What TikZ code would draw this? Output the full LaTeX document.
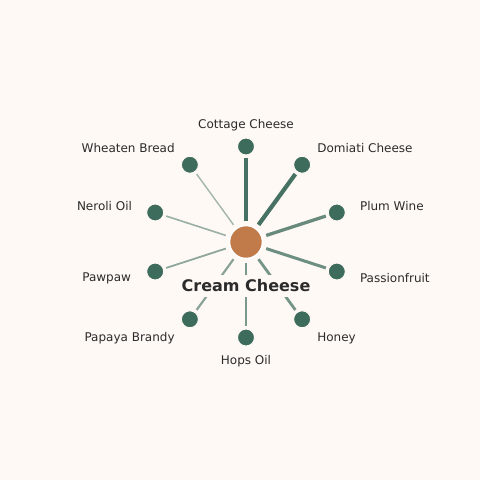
\documentclass[tikz,border=0pt]{standalone}
\usepackage{fontspec}
\setmainfont{DejaVu Sans}
\usetikzlibrary{calc}
\definecolor{paper}{HTML}{FFF9F5}
\definecolor{leaf}{HTML}{3D6B5C}
\definecolor{clay}{HTML}{C17A4A}
\definecolor{inkc}{HTML}{2B2B2B}
\tikzset{
  hub/.style={circle,fill=clay,draw=white,line width=1.5pt,minimum size=33pt,inner sep=0pt},
  item/.style={circle,fill=leaf,draw=paper,line width=1pt,minimum size=17pt,inner sep=0pt},
  spoke/.style={draw=leaf,shorten <=4pt,shorten >=2.5pt},
  tag/.style={font=\fontsize{12}{14}\selectfont,text=inkc,inner sep=1pt},
  title/.style={font=\fontsize{16}{18}\selectfont\bfseries,text=inkc,fill=paper,inner sep=5pt}
}
\begin{document}
\begin{tikzpicture}[x=1pt,y=-1pt]
\fill[paper] (0,0) rectangle (480,480);
\useasboundingbox (0,0) rectangle (480,480);

% spokes out from the hub (y grows downwards here)
\node[hub] (cream) at (246,242) {};
\foreach \nm/\ang/\lw/\op in {cottage/-90/4.2/0.95, domiati/-54/4.2/0.95, plum/-18/3.3/0.78,
    passion/18/3.0/0.75, honey/54/2.8/0.7, hops/90/2.6/0.68, papaya/126/2.2/0.6,
    pawpaw/162/1.8/0.58, neroli/198/1.6/0.52, wheaten/234/1.4/0.48}
{
  \node[item] (\nm) at ($(cream)+(\ang:95.5)$) {};
  \draw[spoke,line width=\lw pt,draw opacity=\op] (cream) -- (\nm);
}

% labels
\node[tag] (cottageT) at ($(cottage)+(0,-21)$) {Cottage Cheese};
\node[tag,anchor=west] (domiatiT) at ($(domiati)+(14,-17)$) {Domiati Cheese};
\node[tag,anchor=west] (plumT) at ($(plum)+(22,-6)$) {Plum Wine};
\node[tag,anchor=west] (passionT) at ($(passion)+(22,7)$) {Passionfruit};
\node[tag,anchor=west] (honeyT) at ($(honey)+(14,19)$) {Honey};
\node[tag] (hopsT) at ($(hops)+(0,24)$) {Hops Oil};
\node[tag,anchor=east] (papayaT) at ($(papaya)+(-14,19)$) {Papaya Brandy};
\node[tag,anchor=east] (pawpawT) at ($(pawpaw)+(-23,7)$) {Pawpaw};
\node[tag,anchor=east] (neroliT) at ($(neroli)+(-22,-6)$) {Neroli Oil};
\node[tag,anchor=east] (wheatenT) at ($(wheaten)+(-14,-17)$) {Wheaten Bread};

\node[title] (creamT) at (246,286) {Cream Cheese};
\end{tikzpicture}
\end{document}
